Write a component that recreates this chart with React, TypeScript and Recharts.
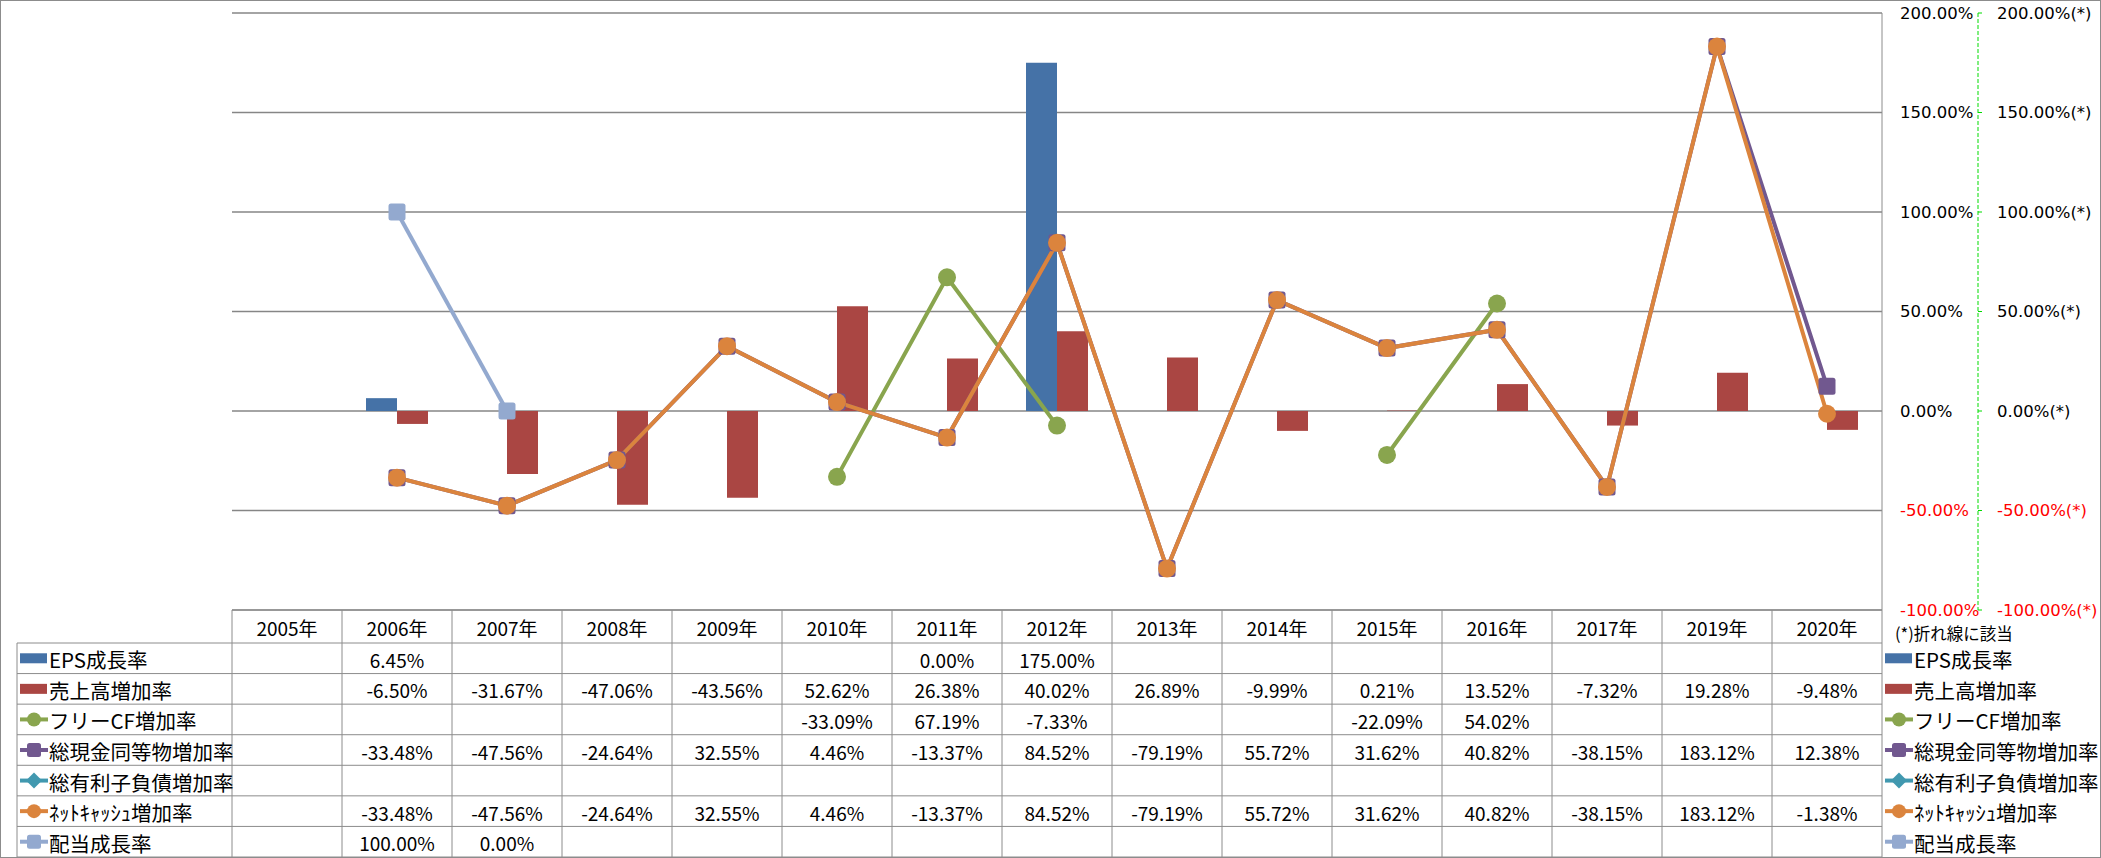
import React from 'react';
import { ComposedChart, Bar, Line, XAxis, YAxis, CartesianGrid } from 'recharts';

// ---------- data ----------
const years = ['2005年', '2006年', '2007年', '2008年', '2009年', '2010年', '2011年', '2012年', '2013年', '2014年', '2015年', '2016年', '2017年', '2019年', '2020年'];
const epsGrowth = [null, 6.45, null, null, null, null, 0.0, 175.0, null, null, null, null, null, null, null];
const salesGrowth = [null, -6.5, -31.67, -47.06, -43.56, 52.62, 26.38, 40.02, 26.89, -9.99, 0.21, 13.52, -7.32, 19.28, -9.48];
const freeCfGrowth = [null, null, null, null, null, -33.09, 67.19, -7.33, null, null, -22.09, 54.02, null, null, null];
const cashGrowth = [null, -33.48, -47.56, -24.64, 32.55, 4.46, -13.37, 84.52, -79.19, 55.72, 31.62, 40.82, -38.15, 183.12, 12.38];
const debtGrowth = [null, null, null, null, null, null, null, null, null, null, null, null, null, null, null];
const netCashGrowth = [null, -33.48, -47.56, -24.64, 32.55, 4.46, -13.37, 84.52, -79.19, 55.72, 31.62, 40.82, -38.15, 183.12, -1.38];
const dividendGrowth = [null, 100.0, 0.0, null, null, null, null, null, null, null, null, null, null, null, null];
const yTicks = [-100, -50, 0, 50, 100, 150, 200];
const noteLabel = '(*)折れ線に該当';

type SeriesDef = { key: string; name: string; color: string; kind: 'bar' | 'line'; marker?: string; values: (number | null)[] };
const SERIES: SeriesDef[] = [
  { key: 'eps', name: 'EPS成長率', color: '#4572A7', kind: 'bar', values: epsGrowth },
  { key: 'sales', name: '売上高増加率', color: '#AA4643', kind: 'bar', values: salesGrowth },
  { key: 'fcf', name: 'フリーCF増加率', color: '#89A54E', kind: 'line', marker: 'circle', values: freeCfGrowth },
  { key: 'cash', name: '総現金同等物増加率', color: '#71588F', kind: 'line', marker: 'square', values: cashGrowth },
  { key: 'debt', name: '総有利子負債増加率', color: '#4198AF', kind: 'line', marker: 'diamond', values: debtGrowth },
  { key: 'net', name: 'ﾈｯﾄｷｬｯｼｭ増加率', color: '#DB843D', kind: 'line', marker: 'circle', values: netCashGrowth },
  { key: 'div', name: '配当成長率', color: '#93A9CF', kind: 'line', marker: 'square', values: dividendGrowth },
];

const data = years.map((y, i) => {
  const row: any = { year: y };
  SERIES.forEach((s) => (row[s.key] = s.values[i]));
  return row;
});

// ---------- layout ----------
const W = 2101;
const H = 858;
const PLOT_L = 232;
const PLOT_T = 13;
const PLOT_B = 610;
const AXIS_A_W = 96;
const AXIS_B_W = 123;
const PLOT_R = W - AXIS_A_W - AXIS_B_W;
const COL_W = (PLOT_R - PLOT_L) / years.length;
const HEADER_H = 33;
const ROW_TOP = PLOT_B + HEADER_H;
const ROW_H = (H - 1 - ROW_TOP) / SERIES.length;
const TABLE_B = ROW_TOP + ROW_H * SERIES.length;
const LABEL_L = 17;
const LINE_C = '#8c8c8c';
const GRID_C = '#868686';
const TABLE_FONT = '"Noto Sans CJK JP", "Noto Sans", sans-serif';
const AXIS_FONT = '"DejaVu Sans", sans-serif';
const TFS = 19;
const LFS = 20.5;

const fmt = (v: number | null | undefined) => (v == null ? '' : v.toFixed(2) + '%');

function Marker({ shape, cx, cy, color, size }: any) {
  if (shape === 'circle') return <ellipse cx={cx} cy={cy} rx={size / 2} ry={size / 2} fill={color} />;
  if (shape === 'square')
    return <rect x={cx - size / 2} y={cy - size / 2} width={size} height={size} rx={2.5} fill={color} />;
  const r = size / 2 + 1;
  return <polygon points={`${cx},${cy - r} ${cx + r},${cy} ${cx},${cy + r} ${cx - r},${cy}`} fill={color} />;
}

function LegendKey({ s, x, cy }: { s: SeriesDef; x: number; cy: number }) {
  if (s.kind === 'bar') return <rect x={x} y={cy - 5} width={27} height={10} fill={s.color} />;
  return (
    <g>
      <line x1={x} x2={x + 28} y1={cy} y2={cy} stroke={s.color} strokeWidth={4} />
      <Marker shape={s.marker} cx={x + 14} cy={cy} color={s.color} size={14} />
    </g>
  );
}

const TableTick = (props: any) => {
  const { x, payload } = props;
  const i = payload.index;
  const left = x - COL_W / 2;
  const right = x + COL_W / 2;
  const els: any[] = [];
  els.push(<line key="vl" x1={left} x2={left} y1={PLOT_B} y2={TABLE_B} stroke={LINE_C} strokeWidth={1} />);
  if (i === years.length - 1)
    els.push(<line key="vr" x1={right} x2={right} y1={PLOT_B} y2={TABLE_B} stroke={LINE_C} strokeWidth={1} />);
  els.push(
    <text key="hd" x={x} y={PLOT_B + HEADER_H / 2 + 1} textAnchor="middle" dominantBaseline="central" fontSize={TFS} fontFamily={TABLE_FONT} fill="#000">
      {payload.value}
    </text>
  );
  for (let k = 0; k <= SERIES.length; k++) {
    const yy = ROW_TOP + k * ROW_H;
    els.push(<line key={'h' + k} x1={left} x2={right} y1={yy} y2={yy} stroke={LINE_C} strokeWidth={1} />);
  }
  SERIES.forEach((s, r) => {
    const v = s.values[i];
    if (v == null) return;
    els.push(
      <text key={'v' + r} x={x} y={ROW_TOP + r * ROW_H + ROW_H / 2 + 1} textAnchor="middle" dominantBaseline="central" fontSize={TFS} fontFamily={TABLE_FONT} fill="#000">
        {fmt(v)}
      </text>
    );
  });
  if (i === 0) {
    // row label column
    els.push(<line key="lv" x1={LABEL_L} x2={LABEL_L} y1={ROW_TOP} y2={TABLE_B} stroke={LINE_C} strokeWidth={1} />);
    for (let k = 0; k <= SERIES.length; k++) {
      const yy = ROW_TOP + k * ROW_H;
      els.push(<line key={'lh' + k} x1={LABEL_L} x2={left} y1={yy} y2={yy} stroke={LINE_C} strokeWidth={1} />);
    }
    SERIES.forEach((s, r) => {
      const cy = ROW_TOP + r * ROW_H + ROW_H / 2;
      els.push(<LegendKey key={'lk' + r} s={s} x={LABEL_L + 3} cy={cy} />);
      els.push(
        <text key={'lt' + r} x={LABEL_L + 32} y={cy + 1} dominantBaseline="central" fontSize={LFS} fontFamily={TABLE_FONT} fill="#000">
          {s.name}
        </text>
      );
    });
  }
  if (i === years.length - 1) {
    // right-hand legend
    els.push(
      <text key="note" x={right + 13} y={PLOT_B + 23} dominantBaseline="central" fontSize={16.5} fontFamily={TABLE_FONT} fill="#000">
        {noteLabel}
      </text>
    );
    SERIES.forEach((s, r) => {
      const cy = ROW_TOP + r * ROW_H + ROW_H / 2;
      els.push(<LegendKey key={'rk' + r} s={s} x={right + 3} cy={cy} />);
      els.push(
        <text key={'rt' + r} x={right + 32} y={cy + 1} dominantBaseline="central" fontSize={LFS} fontFamily={TABLE_FONT} fill="#000">
          {s.name}
        </text>
      );
    });
  }
  return <g>{els}</g>;
};

const makeYTick = (suffix: string) => (props: any) => {
  const { x, y, payload } = props;
  const v = payload.value as number;
  return (
    <text x={x} y={y} textAnchor="start" dominantBaseline="central" fontSize={16.5} fontFamily={AXIS_FONT} fill={v < 0 ? '#FF0000' : '#000'}>
      {v.toFixed(2) + '%' + suffix}
    </text>
  );
};
const YTickA = makeYTick('');
const YTickB = makeYTick('(*)');

const makeDot = (shape: string, color: string, size: number) => (props: any) => {
  const { cx, cy, value, index } = props;
  if (value == null || cx == null || cy == null || isNaN(cy)) return <g key={'e' + index} />;
  return <Marker key={'m' + index} shape={shape} cx={cx} cy={cy} color={color} size={size} />;
};

export default function App() {
  const lines = SERIES.filter((s) => s.kind === 'line');
  const bars = SERIES.filter((s) => s.kind === 'bar');
  return (
    <div style={{ position: 'absolute', left: 0, top: 0, width: W, height: H, background: '#fff' }}>
      <div style={{ position: 'absolute', left: 0, top: 0, width: W, height: H, border: '1px solid #8c8c8c', boxSizing: 'border-box' }} />
      <div style={{ position: 'absolute', left: 0, top: 0 }}>
        <ComposedChart
          width={W}
          height={H}
          data={data}
          margin={{ top: PLOT_T, right: 0, left: PLOT_L, bottom: 0 }}
          barGap={0}
        >
          <CartesianGrid yAxisId="a" vertical={false} stroke={GRID_C} strokeWidth={1.3} />
          <XAxis
            dataKey="year"
            interval={0}
            height={H - PLOT_B}
            tickLine={false}
            tickSize={0}
            tickMargin={0}
            axisLine={{ stroke: LINE_C }}
            tick={<TableTick />}
          />
          <YAxis
            yAxisId="a"
            orientation="right"
            width={AXIS_A_W}
            domain={[-100, 200]}
            ticks={yTicks}
            allowDataOverflow
            axisLine={{ stroke: LINE_C }}
            tickLine={false}
            tickSize={0}
            tickMargin={18}
            tick={<YTickA />}
          />
          <YAxis
            yAxisId="b"
            orientation="right"
            width={AXIS_B_W}
            domain={[-100, 200]}
            ticks={yTicks}
            allowDataOverflow
            axisLine={{ stroke: '#00DD00', strokeDasharray: '4 2' }}
            tickLine={{ stroke: '#00DD00' }}
            tickSize={4}
            tickMargin={15}
            tick={<YTickB />}
          />
          {bars.map((s) => (
            <Bar key={s.key} yAxisId="a" dataKey={s.key} name={s.name} fill={s.color} barSize={31} isAnimationActive={false} />
          ))}
          {lines.map((s) => (
            <Line
              key={s.key}
              yAxisId="b"
              type="linear"
              dataKey={s.key}
              name={s.name}
              stroke={s.color}
              strokeWidth={4}
              connectNulls={false}
              dot={makeDot(s.marker || 'circle', s.color, s.marker === 'square' ? 17 : 18)}
              activeDot={false}
              isAnimationActive={false}
            />
          ))}
        </ComposedChart>
      </div>
    </div>
  );
}
